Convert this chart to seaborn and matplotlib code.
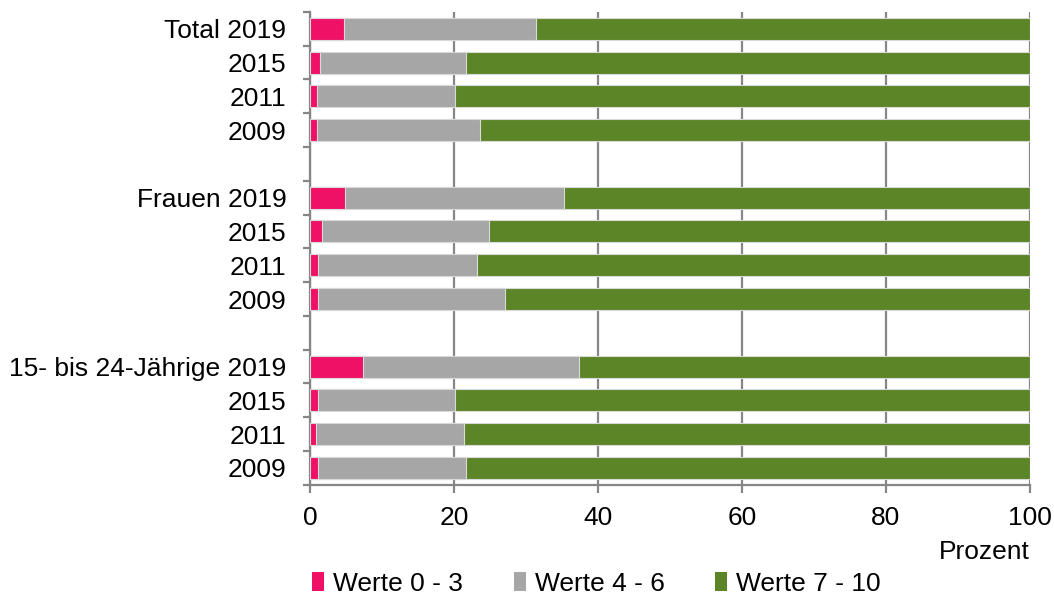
import matplotlib
matplotlib.use("Agg")
import matplotlib.pyplot as plt
import seaborn as sns
import pandas as pd
import numpy as np
from matplotlib.patches import Patch

# data (Prozent)
rows = ["Total 2019", "2015", "2011", "2009",
        "Frauen 2019", "2015", "2011", "2009",
        "15- bis 24-Jährige 2019", "2015", "2011", "2009"]
werte_0_3 = [4.7, 1.4, 1.0, 1.0, 4.9, 1.7, 1.1, 1.1, 7.4, 1.1, 0.8, 1.1]
werte_4_6 = [26.7, 20.3, 19.2, 22.7, 30.4, 23.2, 22.1, 26.0, 30.0, 19.1, 20.6, 20.6]
werte_7_10 = [100 - a - b for a, b in zip(werte_0_3, werte_4_6)]
series_names = ["Werte 0 - 3", "Werte 4 - 6", "Werte 7 - 10"]
colors = ["#EE1166", "#A6A6A6", "#5B8526"]

# row keys with empty spacer rows between groups
keys = [f"r{i}" for i in range(len(rows))]
order = keys[0:4] + ["gap1"] + keys[4:8] + ["gap2"] + keys[8:12]
labels = rows[0:4] + [""] + rows[4:8] + [""] + rows[8:12]

df = pd.DataFrame({"key": keys, "a": werte_0_3, "b": werte_4_6, "c": werte_7_10})
df["cum_b"] = df["a"] + df["b"]
df["cum_c"] = df["cum_b"] + df["c"]

sns.set_style("white")
plt.rcParams["font.family"] = ["Liberation Sans", "DejaVu Sans"]
plt.rcParams["text.color"] = "black"
plt.rcParams["xtick.labelcolor"] = "black"
plt.rcParams["ytick.labelcolor"] = "black"
fs = 19

fig = plt.figure(figsize=(10.54, 5.97), dpi=100)
ax = fig.add_axes([0.294, 0.188, 0.683, 0.792])

edge = "#D9D9D9"
for col, c in [("cum_c", colors[2]), ("cum_b", colors[1]), ("a", colors[0])]:
    sns.barplot(data=df, x=col, y="key", order=order, color=c, orient="h",
                width=0.65, edgecolor=edge, linewidth=0.8, ax=ax, zorder=3,
                saturation=1)

ax.set_xlim(0, 100)
ax.set_ylim(13.5, -0.5)
ax.set_xticks(np.arange(0, 101, 20))
ax.xaxis.grid(True, color="#868686", linewidth=1.6, zorder=0)
ax.set_axisbelow(True)

ax.set_yticks(range(len(order)))
ax.set_yticklabels(labels, fontsize=fs)
ax.set_yticks(np.arange(-0.5, 14, 1), minor=True)
ax.tick_params(axis="y", which="major", length=0, pad=17, labelcolor="black")
ax.tick_params(axis="y", which="minor", length=5, width=1.6, color="#868686", direction="out", left=True)
ax.tick_params(axis="x", length=6, width=1.6, color="#868686", direction="out", bottom=True,
               labelsize=fs, pad=9, labelcolor="black")

for s in ["top", "right"]:
    ax.spines[s].set_visible(False)
for s in ["left", "bottom"]:
    ax.spines[s].set_color("#868686")
    ax.spines[s].set_linewidth(1.6)

ax.set_xlabel("")
ax.set_ylabel("")
fig.text(0.977, 0.075, "Prozent", ha="right", va="center", fontsize=fs, color="black")

handles = [Patch(facecolor=c, edgecolor="none") for c in colors]
leg = fig.legend(handles, series_names, loc="center", bbox_to_anchor=(0.566, 0.022), ncol=3,
                 frameon=False, fontsize=fs, handlelength=0.45, handleheight=0.75,
                 handletextpad=0.35, columnspacing=1.92)
for t in leg.get_texts():
    t.set_color("black")

fig.savefig("out.png", dpi=100)
